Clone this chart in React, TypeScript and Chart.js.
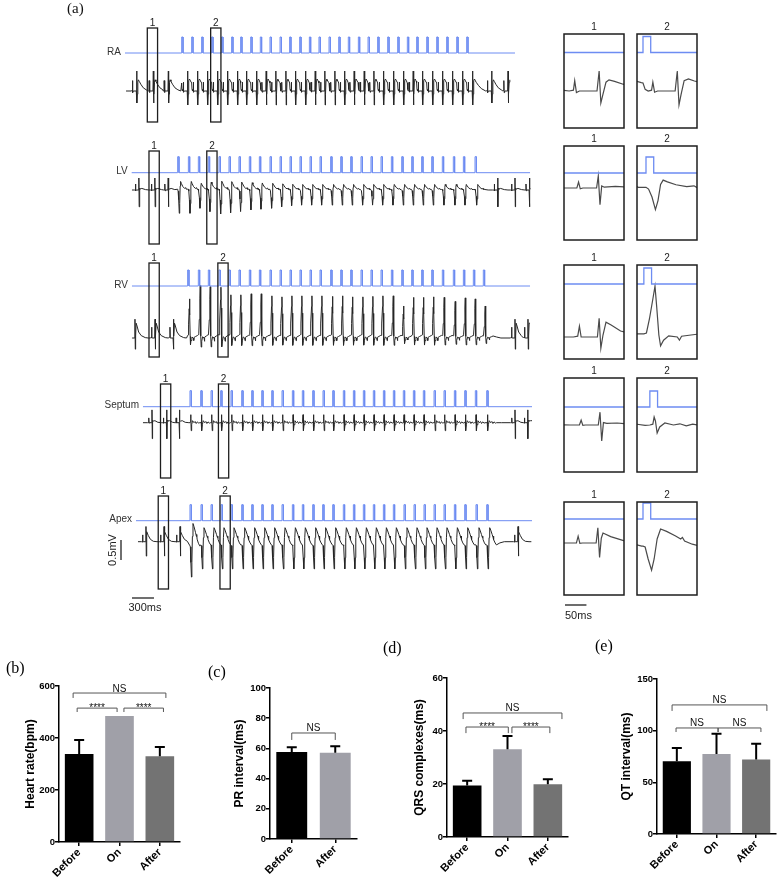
import React, { useEffect, useRef } from 'react';
import { Chart, registerables } from 'chart.js';
Chart.register(...registerables);

const SANS = '"Liberation Sans", Arial, sans-serif';
const SERIF = '"Liberation Serif", "Times New Roman", serif';
const BLUE = '#6d8cf2';
const INK = '#262626';

// ---------------- Panel (a): time in ms, amplitude in mV ----------------
const leadNames = ['RA', 'LV', 'RV', 'Septum', 'Apex'];

// pacing stimulus times (ms)
const raStim = [1114, 1250, 1386, 1523, 1659, 1795, 1918, 2055, 2186, 2318, 2455, 2586, 2723, 2855, 2986, 3123, 3255, 3386, 3523, 3655, 3786, 3923, 4059, 4191, 4318, 4455, 4591, 4727, 4864, 5000];
const lvStim = [1059, 1205, 1341, 1477, 1623, 1759, 1895, 2036, 2173, 2318, 2455, 2591, 2727, 2864, 3000, 3145, 3282, 3418, 3559, 3695, 3832, 3973, 4114, 4250, 4386, 4523, 4668, 4818, 4955, 5114];
const rvStim = [1195, 1341, 1477, 1623, 1759, 1895, 2036, 2173, 2318, 2455, 2591, 2727, 2864, 3000, 3145, 3282, 3418, 3559, 3695, 3832, 3973, 4114, 4250, 4386, 4523, 4668, 4818, 4955, 5091, 5227];
const septumStim = [1227, 1373, 1514, 1645, 1786, 1932, 2068, 2205, 2341, 2482, 2623, 2759, 2900, 3041, 3173, 3318, 3455, 3591, 3727, 3864, 4000, 4136, 4273, 4409, 4555, 4691, 4832, 4973, 5118, 5273];
const apexStim = [1227, 1377, 1514, 1650, 1786, 1932, 2068, 2205, 2341, 2482, 2623, 2759, 2900, 3036, 3173, 3318, 3455, 3591, 3727, 3864, 4000, 4145, 4282, 4418, 4555, 4691, 4832, 4973, 5127, 5273];

// intrinsic (sinus) QRS times before / after pacing (ms)
const raPre = [500, 727, 932];
const raPost = [5341, 5564];
const lvPre = [530, 748, 930];
const lvPost = [5423, 5659, 5855];
const rvPre = [477, 750, 1000];
const rvPost = [5659, 5836];
const septumPre = [709, 909, 1082];
const septumPost = [5659, 5832];
const apexPre = [627, 873, 1091];
const apexPost = [5700];

// paced-beat amplitude factors
const raGain = [1, 1, 1, 1, 1, 1, 1, 1, 1, 1, 1, 1, 1, 1, 1, 1, 1, 1, 1, 1, 1, 1, 1, 1, 1, 1, 1, 1, 1, 1];
const lvGain = [0.97, 0.97, 0.76, 0.9, 1.0, 0.95, 0.9, 0.83, 0.8, 0.76, 0.7, 0.65, 0.63, 0.63, 0.63, 0.63, 0.63, 0.63, 0.63, 0.63, 0.63, 0.63, 0.63, 0.63, 0.63, 0.63, 0.63, 0.63, 0.63, 0.63];
const rvGain = [0.77, 1.03, 1.01, 1.0, 0.85, 0.85, 0.87, 0.87, 0.83, 0.81, 0.83, 0.83, 0.83, 0.83, 0.82, 0.83, 0.81, 0.81, 0.82, 0.83, 0.83, 0.63, 0.8, 0.8, 0.81, 0.8, 0.72, 0.79, 0.77, 0.63];
const septumGain = [1, 1, 1, 1, 1, 1, 1, 1, 1, 1, 1, 1, 1, 1, 1, 1, 1, 1, 1, 1, 1, 1, 1, 1, 1, 1, 1, 1, 1, 1];
const apexGain = [1.3, 1, 1, 1, 1, 1, 1, 1, 1, 1, 1, 1, 1, 1, 1, 1, 1, 1, 1, 1, 1, 1, 1, 1, 1, 1, 1, 1, 1, 1];

// beat waveforms: [ms relative to QRS (sinus) or stimulus (paced), mV]
const raSinus = [[-70, 0], [-60, 0.02], [-57, 0.26], [-53, -0.04], [-46, 0], [-5, 0], [0, 0.5], [4, -0.3], [9, -0.08], [16, 0.22], [23, 0.28], [36, 0.24], [56, 0.17], [90, 0.08], [130, 0.03], [170, 0]];
const raPaced = [[0, 0.2], [5, 0.04], [12, 0], [20, 0.02], [23, 0.22], [27, -0.03], [34, 0], [75, 0], [80, 0.5], [84, -0.35], [89, -0.08], [96, 0.26], [106, 0.3], [120, 0.25], [133, 0.21], [160, 0.14], [200, 0.06], [260, 0]];
const lvSinus = [[-60, 0], [-50, 0], [-46, 0.15], [-42, -0.02], [-36, 0], [-4, 0], [0, 0.3], [4, -0.42], [8, 0.05], [14, 0.02], [40, 0.04], [90, 0.01], [140, 0]];
const lvPaced = [[0, 0.02], [6, -0.03], [14, -0.25], [22, -0.6], [28, -0.35], [34, 0.1], [40, 0.22], [50, 0.17], [70, 0.09], [95, 0.04], [112, 0.06], [118, 0.02], [133, 0.02], [180, 0], [240, 0]];
const rvSinus = [[-60, 0], [-50, 0.02], [-46, 0.27], [-42, 0], [-36, 0], [-4, 0], [0, 0.47], [4, -0.28], [9, 0.05], [16, 0.37], [28, 0.3], [50, 0.15], [85, 0.06], [140, 0.01], [180, 0]];
const rvPaced = [[0, 0.08], [6, 0.1], [13, 0.45], [21, 0.95], [26, 1.27], [30, 0.75], [35, 0.05], [39, -0.22], [46, -0.08], [58, 0.03], [78, 0], [83, -0.08], [88, 0.02], [110, 0.05], [133, 0.08], [180, 0.04], [240, 0]];
const septumSinus = [[-60, 0], [-48, 0], [-44, 0.12], [-40, -0.01], [-34, 0], [-4, 0], [0, 0.32], [4, -0.4], [8, 0.06], [16, 0.04], [40, 0.05], [80, 0.01], [130, 0]];
const septumPaced = [[0, 0], [7, 0.02], [10, 0.2], [13, 0.1], [17, -0.2], [23, -0.05], [35, 0.05], [55, 0], [70, 0.03], [85, -0.02], [100, 0.02], [120, -0.01], [133, 0], [200, 0]];
const apexSinus = [[-60, 0], [-50, 0], [-46, 0.17], [-42, -0.01], [-36, 0], [-4, 0], [0, 0.38], [4, -0.36], [8, 0.12], [12, 0.25], [30, 0.16], [60, 0.06], [100, 0.01], [150, 0]];
const apexPaced = [[0, -0.08], [5, -0.1], [12, -0.4], [20, -0.68], [26, -0.4], [33, 0.1], [41, 0.35], [55, 0.29], [75, 0.18], [88, 0.1], [92, 0.14], [97, 0.05], [115, -0.03], [133, -0.08], [180, -0.03], [240, 0]];

// recording extents [start, end] (ms)
const raTrace = [355, 5590];
const lvTrace = [436, 5870];
const rvTrace = [436, 5864];
const septumTrace = [586, 5891];
const apexTrace = [518, 5882];
const raLine = [341, 5659];
const lvLine = [432, 5864];
const rvLine = [436, 5864];
const septumLine = [586, 5891];
const apexLine = [491, 5891];

// start of magnified windows 1 and 2 (ms)
const raWin = [645, 1509];
const lvWin = [668, 1456];
const rvWin = [668, 1607];
const septumWin = [825, 1615];
const apexWin = [794, 1636];

const LEADS = [
  { name: leadNames[0], stim: raStim, pre: raPre, post: raPost, gain: raGain, sinus: raSinus, paced: raPaced, trace: raTrace, line: raLine, win: raWin },
  { name: leadNames[1], stim: lvStim, pre: lvPre, post: lvPost, gain: lvGain, sinus: lvSinus, paced: lvPaced, trace: lvTrace, line: lvLine, win: lvWin },
  { name: leadNames[2], stim: rvStim, pre: rvPre, post: rvPost, gain: rvGain, sinus: rvSinus, paced: rvPaced, trace: rvTrace, line: rvLine, win: rvWin },
  { name: leadNames[3], stim: septumStim, pre: septumPre, post: septumPost, gain: septumGain, sinus: septumSinus, paced: septumPaced, trace: septumTrace, line: septumLine, win: septumWin },
  { name: leadNames[4], stim: apexStim, pre: apexPre, post: apexPost, gain: apexGain, sinus: apexSinus, paced: apexPaced, trace: apexTrace, line: apexLine, win: apexWin },
];

// ---------------- Panels (b)-(e) ----------------
const groups3 = ['Before', 'On', 'After'];
const groups2 = ['Before', 'After'];
const hrMean = [338, 485, 330];
const hrSD = [54, 0, 35];
const prMean = [57.6, 57.1];
const prSD = [3.1, 4.4];
const qrsMean = [19.4, 33.1, 19.9];
const qrsSD = [1.8, 5.0, 1.9];
const qtMean = [70.3, 77.4, 72.0];
const qtSD = [12.9, 19.6, 15.4];
// [from category, to category, y, drop, label]
const hrBrackets: any[] = [[-0.15, 2.15, 573, 19, 'NS'], [-0.05, 0.94, 515, 15, '****'], [1.11, 2.09, 515, 15, '****']];
const prBrackets: any[] = [[0, 1, 70.2, 4.6, 'NS']];
const qrsBrackets: any[] = [[-0.1, 2.35, 46.8, 2.3, 'NS'], [-0.03, 1.02, 41.5, 2.3, '****'], [1.11, 2.05, 41.5, 2.3, '****']];
const qtBrackets: any[] = [[-0.12, 2.27, 124.9, 5.8, 'NS'], [-0.02, 1.04, 102.6, 3.9, 'NS'], [1.04, 2.12, 102.6, 3.9, 'NS']];
const colors3 = ['#000000', '#a0a0a8', '#737373'];
const colors2 = ['#000000', '#a0a0a8'];

// ---------------- layout (page px) ----------------
const PX_PER_MV = 40;
const MS_PER_PX = 300 / 22;
const X0 = 100;
const STIM_H = 0.4;
const STIM_W = 18;
const WIN = 140;
const MAIN = {
  stimY: [53, 172.7, 286, 406.7, 520.7],
  ecgY: [91, 190, 338, 422.7, 541.7],
  boxTop: [28, 151, 263, 384, 496],
  boxBottom: [122, 244, 357, 478, 589],
};
const INSET = {
  colX: [564, 637],
  width: 60,
  top: [34, 146, 265, 378, 502],
  bottom: [128, 240, 359, 472, 595],
  stimY: [52.5, 173, 284, 407, 519],
  ecgY: [91, 188, 337, 425, 543],
};

type Pt = { x: number; y: number };

function buildEcg(L: any): Pt[] {
  const ev: { t: number; tpl: number[][]; g: number }[] = [];
  L.pre.forEach((t: number) => ev.push({ t, tpl: L.sinus, g: 1 }));
  L.stim.forEach((t: number, i: number) => ev.push({ t, tpl: L.paced, g: L.gain[i] }));
  L.post.forEach((t: number) => ev.push({ t, tpl: L.sinus, g: 1 }));
  ev.sort((a, b) => a.t - b.t);
  const [s0, s1] = L.trace;
  const pts: Pt[] = [{ x: s0, y: 0 }];
  ev.forEach((e, i) => {
    const limit = i + 1 < ev.length ? ev[i + 1].t + ev[i + 1].tpl[0][0] : s1;
    for (const [dt, v] of e.tpl) {
      const x = e.t + dt;
      if (x >= limit || x > s1) break;
      if (x <= s0) continue;
      pts.push({ x, y: v * e.g });
    }
  });
  pts.push({ x: s1, y: pts[pts.length - 1].y });
  return pts;
}

function buildStim(L: any): Pt[] {
  const pts: Pt[] = [{ x: L.line[0], y: 0 }];
  L.stim.forEach((t: number) => {
    pts.push({ x: t, y: 0 }, { x: t, y: 1 }, { x: t + STIM_W, y: 1 }, { x: t + STIM_W, y: 0 });
  });
  pts.push({ x: L.line[1], y: 0 });
  return pts;
}

const baseOpts = {
  responsive: false,
  animation: false as const,
  devicePixelRatio: 1,
  events: [] as any[],
  plugins: { legend: { display: false }, tooltip: { enabled: false } },
};

function TracePanel() {
  const ref = useRef<HTMLCanvasElement>(null);
  const W = 545;
  const H = 630;
  useEffect(() => {
    const datasets: any[] = [];
    LEADS.forEach((L, i) => {
      const so = -MAIN.stimY[i] / PX_PER_MV;
      const eo = -MAIN.ecgY[i] / PX_PER_MV;
      datasets.push({ data: buildStim(L).map((p) => ({ x: p.x, y: so + p.y * STIM_H })), borderColor: BLUE, borderWidth: 1, pointRadius: 0, tension: 0 });
      datasets.push({ data: buildEcg(L).map((p) => ({ x: p.x, y: eo + p.y })), borderColor: INK, borderWidth: 1, pointRadius: 0, tension: 0 });
    });
    const chart = new Chart(ref.current!, {
      type: 'line',
      data: { datasets },
      options: {
        ...baseOpts,
        layout: { padding: 0 },
        scales: {
          x: { type: 'linear', display: false, min: -X0 * MS_PER_PX, max: (W - X0) * MS_PER_PX },
          y: { type: 'linear', display: false, min: -H / PX_PER_MV, max: 0 },
        },
      } as any,
      plugins: [
        {
          id: 'mainDeco',
          afterDatasetsDraw(ch: any) {
            const ctx = ch.ctx;
            const xs = ch.scales.x;
            const ys = ch.scales.y;
            ctx.save();
            LEADS.forEach((L, i) => {
              L.win.forEach((w: number, k: number) => {
                const x1 = xs.getPixelForValue(w);
                const x2 = xs.getPixelForValue(w + WIN);
                const y1 = MAIN.boxTop[i];
                const y2 = MAIN.boxBottom[i];
                ctx.strokeStyle = '#1e1e1e';
                ctx.lineWidth = 1.3;
                ctx.strokeRect(x1, y1, x2 - x1, y2 - y1);
                ctx.fillStyle = '#222';
                ctx.font = `10px ${SANS}`;
                ctx.textAlign = 'center';
                ctx.textBaseline = 'alphabetic';
                ctx.fillText(String(k + 1), (x1 + x2) / 2, y1 - 2);
              });
              ctx.fillStyle = '#333';
              ctx.font = `10px ${SANS}`;
              ctx.textAlign = 'right';
              ctx.textBaseline = 'middle';
              ctx.fillText(L.name, xs.getPixelForValue(L.line[0]) - 4, MAIN.stimY[i] - 1);
            });
            // (a)
            ctx.fillStyle = '#111';
            ctx.font = `15px ${SERIF}`;
            ctx.textAlign = 'left';
            ctx.textBaseline = 'middle';
            ctx.fillText('(a)', 67, 9);
            // 0.5 mV scale bar
            const barLen = ys.getPixelForValue(0) - ys.getPixelForValue(0.5);
            ctx.strokeStyle = '#222';
            ctx.lineWidth = 1.3;
            ctx.beginPath();
            ctx.moveTo(121, 560);
            ctx.lineTo(121, 560 - barLen);
            ctx.stroke();
            ctx.save();
            ctx.translate(113, 550);
            ctx.rotate(-Math.PI / 2);
            ctx.font = `11px ${SANS}`;
            ctx.textAlign = 'center';
            ctx.textBaseline = 'middle';
            ctx.fillStyle = '#222';
            ctx.fillText('0.5mV', 0, 0);
            ctx.restore();
            // 300 ms scale bar
            const t0 = lvTrace[0];
            const hx1 = xs.getPixelForValue(t0);
            const hx2 = xs.getPixelForValue(t0 + 300);
            ctx.beginPath();
            ctx.moveTo(hx1, 598);
            ctx.lineTo(hx2, 598);
            ctx.stroke();
            ctx.fillStyle = '#222';
            ctx.font = `11px ${SANS}`;
            ctx.textAlign = 'center';
            ctx.textBaseline = 'middle';
            ctx.fillText('300ms', (hx1 + hx2) / 2 + 2, 608);
            ctx.restore();
          },
        },
      ],
    });
    return () => chart.destroy();
  }, []);
  return <canvas ref={ref} width={W} height={H} style={{ position: 'absolute', left: 0, top: 0, width: W, height: H }} />;
}

function Inset({ lead, col }: { lead: number; col: number }) {
  const ref = useRef<HTMLCanvasElement>(null);
  const top = INSET.top[lead];
  const bottom = INSET.bottom[lead];
  const boxH = bottom - top;
  const extra = lead === 4 && col === 0 ? 32 : 4;
  const padTop = 18;
  const W = INSET.width + 8;
  const H = boxH + padTop + extra;
  const left = INSET.colX[col] - 4;
  useEffect(() => {
    const L = LEADS[lead];
    const w0 = L.win[col];
    const ecgY = INSET.ecgY[lead];
    const so = (ecgY - INSET.stimY[lead]) / PX_PER_MV;
    const chart = new Chart(ref.current!, {
      type: 'line',
      data: {
        datasets: [
          { data: buildStim(L).map((p) => ({ x: p.x, y: so + p.y * STIM_H })), borderColor: BLUE, borderWidth: 1.3, pointRadius: 0, tension: 0 },
          { data: buildEcg(L).map((p) => ({ x: p.x, y: p.y })), borderColor: '#4a4a4a', borderWidth: 1.2, pointRadius: 0, tension: 0 },
        ],
      },
      options: {
        ...baseOpts,
        layout: { padding: { left: 4, right: 4, top: padTop, bottom: extra } },
        scales: {
          x: { type: 'linear', display: false, min: w0, max: w0 + WIN },
          y: { type: 'linear', display: false, min: -(bottom - ecgY) / PX_PER_MV, max: (ecgY - top) / PX_PER_MV },
        },
      } as any,
      plugins: [
        {
          id: 'insetDeco',
          afterDatasetsDraw(ch: any) {
            const ctx = ch.ctx;
            const a = ch.chartArea;
            ctx.save();
            ctx.strokeStyle = '#1e1e1e';
            ctx.lineWidth = 1.5;
            ctx.strokeRect(a.left, a.top, a.right - a.left, a.bottom - a.top);
            ctx.fillStyle = '#222';
            ctx.font = `10px ${SANS}`;
            ctx.textAlign = 'center';
            ctx.textBaseline = 'alphabetic';
            ctx.fillText(String(col + 1), (a.left + a.right) / 2, a.top - 4);
            if (lead === 4 && col === 0) {
              const xs = ch.scales.x;
              const len = xs.getPixelForValue(w0 + 50) - xs.getPixelForValue(w0);
              ctx.lineWidth = 1.3;
              ctx.beginPath();
              ctx.moveTo(a.left + 1, a.bottom + 10);
              ctx.lineTo(a.left + 1 + len, a.bottom + 10);
              ctx.stroke();
              ctx.font = `11px ${SANS}`;
              ctx.textAlign = 'left';
              ctx.textBaseline = 'middle';
              ctx.fillText('50ms', a.left + 1, a.bottom + 21);
            }
            ctx.restore();
          },
        },
      ],
    });
    return () => chart.destroy();
  }, []);
  return <canvas ref={ref} width={W} height={H} style={{ position: 'absolute', left, top: top - padTop, width: W, height: H }} />;
}

type BarCfg = {
  left: number; width: number; yWidth: number; padRight: number; padTop: number; xHeight: number;
  labels: string[]; mean: number[]; sd: number[]; colors: string[]; yMax: number; yStep: number;
  title: string; titleOffset: number; panel: string; panelX: number; panelY: number; brackets: any[];
};

const PANEL_TOP = 630;
const PANEL_H = 248;
const BAR_PANELS: BarCfg[] = [
  { left: 0, width: 190, yWidth: 59, padRight: 10, padTop: 56, xHeight: 36, labels: groups3, mean: hrMean, sd: hrSD, colors: colors3, yMax: 600, yStep: 200, title: 'Heart rate(bpm)', titleOffset: 28, panel: '(b)', panelX: 6, panelY: 669, brackets: hrBrackets },
  { left: 190, width: 180, yWidth: 80, padRight: 13, padTop: 58, xHeight: 39, labels: groups2, mean: prMean, sd: prSD, colors: colors2, yMax: 100, yStep: 20, title: 'PR interval(ms)', titleOffset: 30, panel: '(c)', panelX: 208, panelY: 673, brackets: prBrackets },
  { left: 380, width: 195, yWidth: 67, padRight: 7, padTop: 48, xHeight: 41, labels: groups3, mean: qrsMean, sd: qrsSD, colors: colors3, yMax: 60, yStep: 20, title: 'QRS complexes(ms)', titleOffset: 27, panel: '(d)', panelX: 383, panelY: 649, brackets: qrsBrackets },
  { left: 575, width: 202, yWidth: 82, padRight: 1, padTop: 49, xHeight: 44, labels: groups3, mean: qtMean, sd: qtSD, colors: colors3, yMax: 150, yStep: 50, title: 'QT interval(ms)', titleOffset: 30, panel: '(e)', panelX: 595, panelY: 647, brackets: qtBrackets },
];

function BarPanel({ cfg }: { cfg: BarCfg }) {
  const ref = useRef<HTMLCanvasElement>(null);
  useEffect(() => {
    const axisGrid = { drawOnChartArea: false, drawTicks: true, tickLength: 4, color: '#000', lineWidth: 1.5, offset: false };
    const chart = new Chart(ref.current!, {
      type: 'bar',
      data: {
        labels: cfg.labels,
        datasets: [{ data: cfg.mean, backgroundColor: cfg.colors, borderWidth: 0, barPercentage: 0.71, categoryPercentage: 1 }],
      },
      options: {
        ...baseOpts,
        layout: { padding: { left: 0, right: cfg.padRight, top: cfg.padTop, bottom: 0 } },
        scales: {
          x: {
            type: 'category',
            offset: true,
            grid: axisGrid,
            border: { display: true, color: '#000', width: 1.5 },
            ticks: { color: '#000', font: { family: SANS, size: 11, weight: 'bold' }, minRotation: 45, maxRotation: 45, padding: 0, autoSkip: false },
            afterFit: (s: any) => { s.height = cfg.xHeight; },
          },
          y: {
            type: 'linear',
            min: 0,
            max: cfg.yMax,
            grid: axisGrid,
            border: { display: true, color: '#000', width: 1.5 },
            ticks: { stepSize: cfg.yStep, color: '#000', font: { family: SANS, size: 9.5, weight: 'bold' }, padding: 0 },
            afterFit: (s: any) => { s.width = cfg.yWidth; },
          },
        },
      } as any,
      plugins: [
        {
          id: 'barDeco',
          afterDatasetsDraw(ch: any) {
            const ctx = ch.ctx;
            const xs = ch.scales.x;
            const ys = ch.scales.y;
            const a = ch.chartArea;
            const meta = ch.getDatasetMeta(0);
            ctx.save();
            // error bars (mean + SD)
            cfg.sd.forEach((s, i) => {
              if (!s) return;
              const x = meta.data[i].x;
              const yTop = ys.getPixelForValue(cfg.mean[i] + s);
              const yBar = ys.getPixelForValue(cfg.mean[i]);
              ctx.strokeStyle = '#000';
              ctx.lineWidth = 2;
              ctx.beginPath();
              ctx.moveTo(x, yBar);
              ctx.lineTo(x, yTop);
              ctx.moveTo(x - 5, yTop);
              ctx.lineTo(x + 5, yTop);
              ctx.stroke();
            });
            // significance brackets
            const p0 = xs.getPixelForValue(0);
            const step = xs.getPixelForValue(1) - p0;
            cfg.brackets.forEach(([f, t, y, d, txt]) => {
              const xa = p0 + f * step;
              const xb = p0 + t * step;
              const yy = ys.getPixelForValue(y);
              const yd = ys.getPixelForValue(y - d);
              ctx.strokeStyle = '#555';
              ctx.lineWidth = 1;
              ctx.beginPath();
              ctx.moveTo(xa, yd);
              ctx.lineTo(xa, yy);
              ctx.lineTo(xb, yy);
              ctx.lineTo(xb, yd);
              ctx.stroke();
              ctx.fillStyle = '#111';
              ctx.textAlign = 'center';
              ctx.textBaseline = 'alphabetic';
              ctx.font = `10px ${SANS}`;
              ctx.fillText(txt, (xa + xb) / 2, txt === 'NS' ? yy - 1.5 : yy + 3);
            });
            // y-axis title
            ctx.save();
            ctx.translate(a.left - cfg.titleOffset, (a.top + a.bottom) / 2);
            ctx.rotate(-Math.PI / 2);
            ctx.fillStyle = '#000';
            ctx.font = `bold 12px ${SANS}`;
            ctx.textAlign = 'center';
            ctx.textBaseline = 'middle';
            ctx.fillText(cfg.title, 0, 0);
            ctx.restore();
            // panel label
            ctx.fillStyle = '#000';
            ctx.font = `16px ${SERIF}`;
            ctx.textAlign = 'left';
            ctx.textBaseline = 'middle';
            ctx.fillText(cfg.panel, cfg.panelX - cfg.left, cfg.panelY - PANEL_TOP);
            ctx.restore();
          },
        },
      ],
    });
    return () => chart.destroy();
  }, []);
  return <canvas ref={ref} width={cfg.width} height={PANEL_H} style={{ position: 'absolute', left: cfg.left, top: PANEL_TOP, width: cfg.width, height: PANEL_H }} />;
}

export default function App() {
  return (
    <div style={{ position: 'absolute', left: 0, top: 0, width: 777, height: 878, background: '#fff', overflow: 'hidden' }}>
      <TracePanel />
      {LEADS.map((_, i) => [0, 1].map((c) => <Inset key={`${i}-${c}`} lead={i} col={c} />))}
      {BAR_PANELS.map((p, k) => <BarPanel key={k} cfg={p} />)}
    </div>
  );
}
